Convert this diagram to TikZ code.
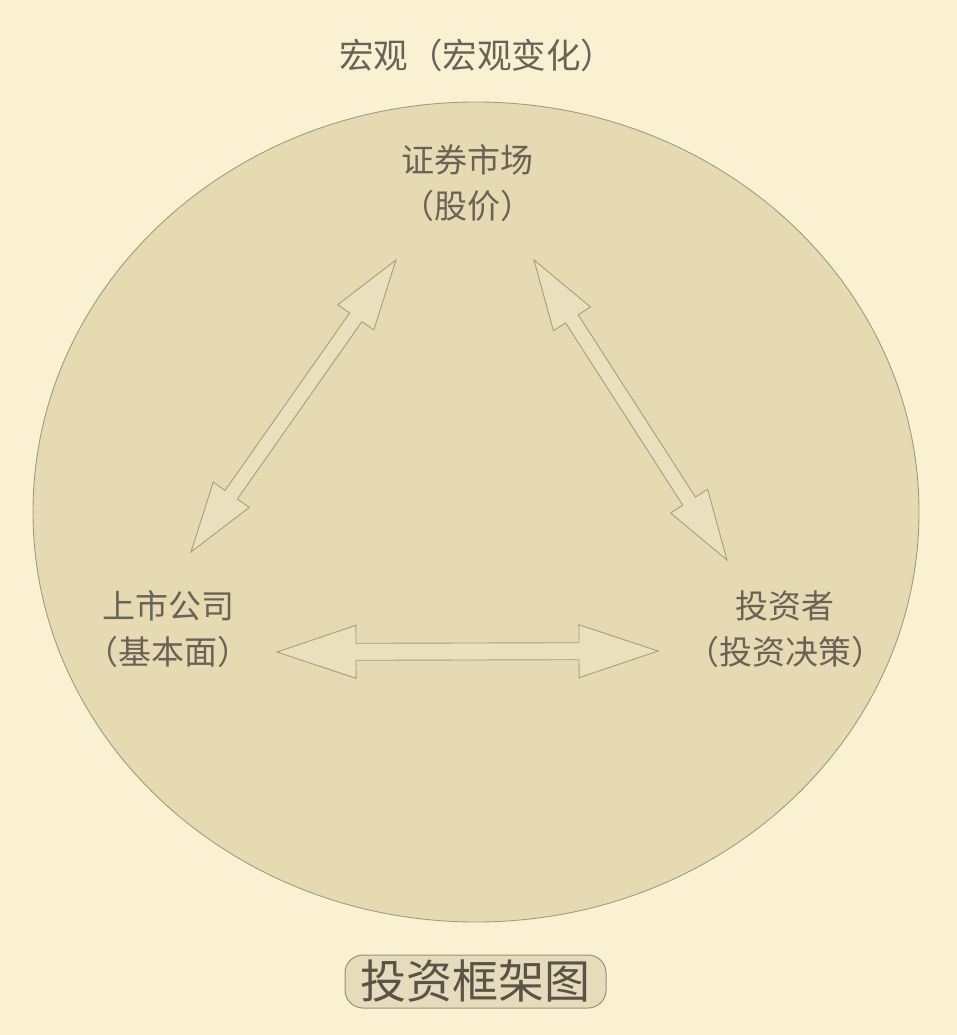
\documentclass[tikz,border=0pt]{standalone}
\usepackage{fontspec}
\newfontfamily\cjk{Noto Sans CJK SC}
\usetikzlibrary{calc}
\definecolor{bgc}{HTML}{FAF0D2}
\definecolor{circfill}{HTML}{E6DAB2}
\definecolor{circline}{HTML}{A59A7E}
\definecolor{arrfill}{HTML}{E9E0BE}
\definecolor{arrline}{HTML}{A89D80}
\definecolor{txt}{HTML}{6A6257}
\definecolor{txtdark}{HTML}{5A5348}
\definecolor{boxfill}{HTML}{E6DCBC}
\definecolor{boxline}{HTML}{9A907A}
\tikzset{
  lbl/.style={text=txt, font=\cjk\fontsize{33}{46}\selectfont, align=center, inner sep=0pt},
  toplbl/.style={text=txt, font=\cjk\fontsize{34.5}{46}\selectfont, inner sep=0pt},
  blockarrow/.style={draw=arrline, fill=arrfill, line width=0.9pt, line join=miter},
  titlebox/.style={draw=boxline, fill=boxfill, line width=1pt, rounded corners=18pt,
    text=txtdark, font=\cjk\fontsize{46}{50}\selectfont, minimum width=261pt, minimum height=53pt, inner sep=0pt}
}
\newcommand\blockarr[5]{%
  \coordinate (ha) at ($(#1)!#3!(#2)$);
  \coordinate (hb) at ($(#2)!#3!(#1)$);
  \path[blockarrow] (#1)
    -- ($(ha)!#4!90:(#2)$) -- ($(ha)!#5!90:(#2)$)
    -- ($(hb)!#5!-90:(#1)$) -- ($(hb)!#4!-90:(#1)$)
    -- (#2)
    -- ($(hb)!#4!90:(#1)$) -- ($(hb)!#5!90:(#1)$)
    -- ($(ha)!#5!-90:(#2)$) -- ($(ha)!#4!-90:(#2)$)
    -- cycle;
}
\begin{document}
\begin{tikzpicture}[x=1pt,y=-1pt]
\fill[bgc] (0,0) rectangle (957,1035);
\useasboundingbox (0,0) rectangle (957,1035);
\draw[draw=circline, fill=circfill, line width=0.9pt] (476,512) ellipse [x radius=443, y radius=410];
\node[toplbl] (macro) at (477,55) {宏观（宏观变化）};
\node[lbl] (market) at (467,183) {证券市场\\（股价）};
\node[lbl] (company) at (168,629) {上市公司\\（基本面）};
\node[lbl] (investor) at (785,629) {投资者\\（投资决策）};
\node[titlebox] (title) at (475.5,981.5) {投资框架图};
\coordinate (l1) at (396,260);
\coordinate (l2) at (191,552);
\coordinate (r1) at (534,260);
\coordinate (r2) at (727,560);
\coordinate (b1) at (277,652);
\coordinate (b2) at (658,651);
\blockarr{l1}{l2}{70pt}{22pt}{7.5pt}
\blockarr{r1}{r2}{70pt}{22pt}{7.5pt}
\blockarr{b1}{b2}{79pt}{26.5pt}{8.5pt}
\end{tikzpicture}
\end{document}
